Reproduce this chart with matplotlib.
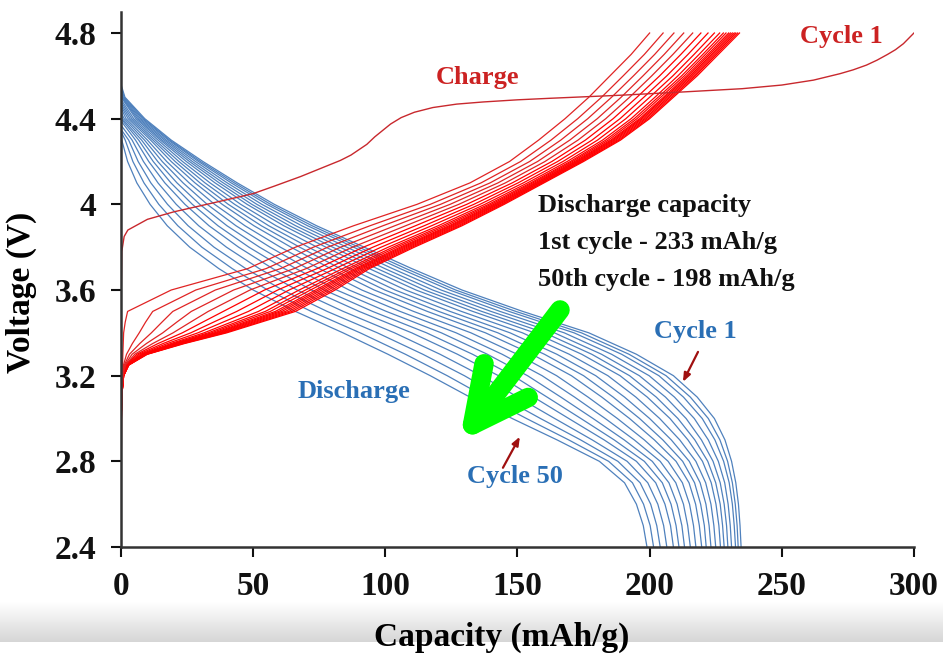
import numpy as np
import matplotlib
matplotlib.use('Agg')
import matplotlib.pyplot as plt
from matplotlib.colors import LinearSegmentedColormap

# discharge curves (cycle 1 ... cycle 50): capacity (mAh/g) where each curve crosses the voltage levels
discharge_levels = [4.5, 4.4, 4.3, 4.2, 4.1, 4.0, 3.9, 3.8, 3.7, 3.6, 3.5, 3.4, 3.3, 3.2, 3.1, 3.0,
                    2.9, 2.8, 2.7, 2.6, 2.5, 2.4]
discharge_start = [4.56, 4.55, 4.55, 4.54, 4.53, 4.52, 4.51, 4.49, 4.48, 4.47,
                   4.46, 4.45, 4.43, 4.42, 4.40, 4.39, 4.37, 4.35, 4.34, 4.32]
discharge_cap = [
    [1.5, 9.0, 19.0, 31.0, 44.0, 58.0, 74.0, 92.0, 110.0, 129.0, 152.0, 177.0, 195.0, 209.0, 218.0, 224.5, 228.5, 231.0, 232.6, 233.6, 234.2, 234.6],
    [1.2, 8.5, 18.4, 30.1, 42.9, 56.6, 72.3, 90.0, 107.8, 126.6, 149.4, 174.2, 192.2, 206.2, 215.4, 222.2, 226.6, 229.5, 231.3, 232.4, 233.1, 233.5],
    [0.9, 8.0, 17.9, 29.3, 41.7, 55.2, 70.6, 88.0, 105.6, 124.3, 146.8, 171.4, 189.4, 203.5, 212.8, 219.9, 224.7, 228.0, 230.1, 231.3, 232.0, 232.5],
    [0.6, 7.4, 17.1, 28.2, 40.2, 53.3, 68.4, 85.4, 102.7, 121.1, 143.4, 167.7, 185.6, 199.8, 209.4, 216.9, 222.2, 226.0, 228.4, 229.7, 230.5, 231.0],
    [0.4, 6.8, 16.4, 27.0, 38.7, 51.4, 66.1, 82.8, 99.8, 117.9, 140.0, 164.0, 181.8, 196.1, 206.0, 213.8, 219.6, 224.0, 226.7, 228.2, 229.1, 229.6],
    [0.25, 6.2, 15.6, 25.9, 37.2, 49.5, 63.8, 80.1, 96.9, 114.8, 136.5, 160.3, 178.1, 192.4, 202.5, 210.7, 217.1, 222.0, 225.0, 226.7, 227.6, 228.2],
    [0.1, 5.6, 14.9, 24.7, 35.6, 47.7, 61.6, 77.5, 93.9, 111.6, 133.1, 156.5, 174.3, 188.8, 199.1, 207.7, 214.5, 220.0, 223.3, 225.1, 226.2, 226.8],
    [0, 4.8, 14.0, 23.3, 33.7, 45.3, 58.7, 74.2, 90.3, 107.7, 128.8, 151.9, 169.6, 184.2, 194.8, 203.8, 211.4, 217.5, 221.2, 223.2, 224.3, 225.0],
    [0, 4.1, 13.0, 21.9, 31.8, 43.0, 55.9, 70.9, 86.6, 103.7, 124.5, 147.2, 164.9, 179.6, 190.5, 200.0, 208.2, 215.0, 219.1, 221.3, 222.5, 223.2],
    [0, 3.4, 12.1, 20.5, 29.9, 40.6, 53.1, 67.6, 83.0, 99.8, 120.2, 142.6, 160.2, 175.0, 186.2, 196.2, 205.0, 212.5, 217.0, 219.3, 220.7, 221.4],
    [0, 2.7, 11.2, 19.0, 28.0, 38.3, 50.3, 64.3, 79.3, 95.8, 115.9, 137.9, 155.5, 170.4, 181.9, 192.4, 201.8, 210.0, 214.9, 217.4, 218.8, 219.7],
    [0, 1.9, 10.0, 17.3, 25.8, 35.4, 46.9, 60.3, 75.0, 91.1, 110.7, 132.4, 149.9, 164.8, 176.7, 187.8, 198.0, 207.0, 212.4, 215.1, 216.6, 217.5],
    [0, 1.2, 8.9, 15.6, 23.5, 32.6, 43.5, 56.4, 70.6, 86.3, 105.6, 126.8, 144.2, 159.3, 171.6, 183.2, 194.2, 204.0, 209.9, 212.8, 214.4, 215.4],
    [0, 0.5, 7.8, 13.9, 21.2, 29.8, 40.1, 52.4, 66.2, 81.6, 100.4, 121.2, 138.6, 153.8, 166.4, 178.6, 190.4, 201.0, 207.3, 210.4, 212.2, 213.2],
    [0, 0, 6.7, 12.2, 18.9, 27.0, 36.7, 48.4, 61.8, 76.9, 95.2, 115.6, 133.0, 148.3, 161.2, 174.0, 186.6, 198.0, 204.8, 208.1, 210.0, 211.1],
    [0, 0, 5.5, 10.5, 16.6, 24.2, 33.3, 44.5, 57.4, 72.1, 90.1, 110.0, 127.3, 142.8, 156.1, 169.4, 182.8, 195.0, 202.3, 205.8, 207.9, 209.0],
    [0, 0, 4.2, 8.5, 14.0, 20.9, 29.4, 39.9, 52.3, 66.6, 84.1, 103.5, 120.7, 136.3, 150.1, 164.1, 178.3, 191.5, 199.3, 203.1, 205.3, 206.5],
    [0, 0, 2.9, 6.5, 11.3, 17.6, 25.4, 35.2, 47.2, 61.1, 78.0, 97.0, 114.2, 129.9, 144.0, 158.7, 173.9, 188.0, 196.4, 200.4, 202.7, 204.0],
    [0, 0, 1.6, 4.5, 8.7, 14.3, 21.5, 30.6, 42.1, 55.5, 72.0, 90.5, 107.6, 123.4, 138.0, 153.4, 169.4, 184.5, 193.5, 197.7, 200.2, 201.5],
    [0, 0, 0.3, 2.5, 6.0, 11.0, 17.5, 26.0, 37.0, 50.0, 66.0, 84.0, 101.0, 117.0, 132.0, 148.0, 165.0, 181.0, 190.5, 195.0, 197.6, 199.0],
]

# charge curves (cycles 2-50): capacity where each curve crosses the voltage levels
charge_levels = [2.4, 3.0, 3.1, 3.2, 3.25, 3.3, 3.35, 3.4, 3.45, 3.5, 3.6, 3.7, 3.8, 3.9, 4.0, 4.1,
                 4.2, 4.3, 4.4, 4.5, 4.6, 4.7, 4.8]
charge_cap = [
    [0, 0.1, 0.25, 1.0, 3.0, 10.0, 24.0, 40.0, 53.0, 66.0, 81.0, 94.0, 111.0, 129.0, 145.0, 160.0, 175.0, 189.0, 200.0, 209.0, 218.0, 226.0, 234.0],
    [0, 0.1, 0.25, 1.0, 2.95, 9.8, 23.5, 39.2, 52.0, 64.7, 79.8, 93.1, 110.1, 128.2, 144.3, 159.4, 174.4, 188.4, 199.4, 208.4, 217.3, 225.3, 233.3],
    [0, 0.1, 0.25, 1.0, 2.9, 9.6, 23.1, 38.4, 50.9, 63.5, 78.5, 92.2, 109.2, 127.4, 143.7, 158.9, 173.9, 187.8, 198.7, 207.7, 216.7, 224.7, 232.6],
    [0, 0.1, 0.25, 1.0, 2.86, 9.44, 22.6, 37.7, 49.9, 62.2, 77.3, 91.2, 108.3, 126.5, 143.0, 158.3, 173.3, 187.1, 198.1, 207.1, 216.0, 224.0, 232.0],
    [0, 0.1, 0.25, 1.0, 2.8, 9.3, 22.1, 36.9, 48.9, 60.9, 76.0, 90.3, 107.4, 125.7, 142.4, 157.8, 172.8, 186.5, 197.4, 206.4, 215.4, 223.4, 231.3],
    [0, 0.1, 0.25, 1.0, 2.76, 9.07, 21.7, 36.1, 47.9, 59.7, 74.8, 89.4, 106.5, 124.9, 141.7, 157.2, 172.2, 185.9, 196.8, 205.8, 214.7, 222.7, 230.6],
    [0, 0.1, 0.25, 0.9, 2.7, 8.9, 21.2, 35.3, 46.8, 58.4, 73.6, 88.5, 105.6, 124.1, 141.0, 156.6, 171.6, 185.3, 196.2, 205.2, 214.0, 222.0, 229.9],
    [0, 0.1, 0.25, 0.9, 2.64, 8.6, 20.5, 34.2, 45.3, 56.5, 71.7, 87.1, 104.3, 122.9, 140.1, 155.8, 170.8, 184.4, 195.2, 204.2, 213.1, 221.1, 228.9],
    [0, 0.1, 0.25, 0.9, 2.57, 8.3, 19.8, 33.0, 43.7, 54.6, 69.8, 85.7, 102.9, 121.6, 139.1, 155.0, 170.0, 183.4, 194.2, 203.2, 212.1, 220.1, 227.9],
    [0, 0.1, 0.25, 0.9, 2.47, 8.0, 18.9, 31.4, 41.7, 52.0, 67.4, 83.9, 101.1, 120.0, 137.7, 153.8, 168.8, 182.2, 193.0, 202.0, 210.7, 218.7, 226.5],
    [0, 0.1, 0.25, 0.9, 2.33, 7.4, 17.5, 29.1, 38.6, 48.2, 63.6, 81.1, 98.4, 117.5, 135.8, 152.2, 167.2, 180.3, 191.0, 200.0, 208.8, 216.8, 224.5],
    [0, 0.1, 0.25, 0.8, 2.16, 6.7, 15.9, 26.4, 35.0, 43.8, 59.3, 77.9, 95.3, 114.7, 133.5, 150.2, 165.2, 178.2, 188.8, 197.8, 206.5, 214.5, 222.1],
    [0, 0.1, 0.25, 0.8, 1.97, 6.0, 14.0, 23.2, 30.9, 38.7, 54.3, 74.2, 91.7, 111.4, 130.8, 148.0, 163.0, 175.7, 186.2, 195.2, 203.8, 211.8, 219.4],
    [0, 0.15, 0.3, 0.7, 1.75, 5.2, 12.0, 19.7, 26.3, 33.0, 48.8, 70.1, 87.6, 107.7, 127.8, 145.4, 160.4, 172.9, 183.4, 192.4, 200.8, 208.8, 216.3],
    [0, 0.15, 0.3, 0.7, 1.5, 4.2, 9.6, 15.8, 21.1, 26.6, 42.6, 65.5, 83.1, 103.6, 124.5, 142.6, 157.6, 169.8, 180.2, 189.2, 197.5, 205.5, 212.9],
    [0, 0.15, 0.3, 0.6, 1.25, 3.2, 7.1, 11.5, 15.5, 19.6, 35.7, 60.4, 78.2, 99.1, 120.9, 139.6, 154.6, 166.4, 176.6, 185.6, 193.9, 201.9, 209.2],
    [0, 0.2, 0.35, 0.6, 0.96, 2.1, 4.3, 6.9, 9.3, 12.0, 28.3, 54.9, 72.8, 94.2, 117.0, 136.2, 151.2, 162.7, 172.8, 181.8, 190.0, 198.0, 205.1],
    [0, 0.2, 0.35, 0.5, 0.6, 0.7, 0.85, 1.0, 1.6, 2.5, 19.0, 48.0, 66.0, 88.0, 112.0, 132.0, 147.0, 158.0, 168.0, 177.0, 185.0, 193.0, 200.0],
]

# first charge
charge1_cap = [0, 0, 0.3, 1.2, 2.6, 10, 20, 36, 50, 58, 68, 78, 83, 87, 90, 93, 96, 99, 102, 106,
               111, 118, 127, 137, 150, 162, 190, 213, 235, 250, 262, 272, 277, 282, 286, 290,
               293, 296, 298, 300]
charge1_v = [2.4, 3.5, 3.78, 3.85, 3.88, 3.93, 3.965, 4.01, 4.05, 4.085, 4.13, 4.18, 4.205, 4.23,
             4.255, 4.28, 4.315, 4.345, 4.375, 4.405, 4.43, 4.452, 4.468, 4.478, 4.488, 4.495,
             4.51, 4.525, 4.54, 4.557, 4.58, 4.61, 4.628, 4.65, 4.673, 4.70, 4.722, 4.75, 4.775, 4.80]

x_ticks = [0, 50, 100, 150, 200, 250, 300]
y_ticks = [2.4, 2.8, 3.2, 3.6, 4.0, 4.4, 4.8]
y_ticklabels = ['2.4', '2.8', '3.2', '3.6', '4', '4.4', '4.8']

plt.rcParams['font.family'] = ['Liberation Serif', 'DejaVu Serif']
plt.rcParams['font.weight'] = 'bold'

fig = plt.figure(figsize=(9.43, 6.62), dpi=100)

# grey shadow band at the bottom of the screenshot
band = fig.add_axes([0, 1 - 642 / 662, 1, 40 / 662], zorder=-1)
band.imshow(np.linspace(0, 1, 60).reshape(-1, 1), aspect='auto', extent=[0, 1, 0, 1],
            cmap=LinearSegmentedColormap.from_list('band', ['#ffffff', '#d6d6d6']))
band.axis('off')

ax = fig.add_axes([0.1283, 0.1737, 0.8409, 0.8088])

blue = '#4f81bd'
red = '#ff0000'
dark_red = '#c8282d'

lv = np.array(discharge_levels)
for start, row in zip(discharge_start, discharge_cap):
    row = np.array(row)
    keep = lv < start
    ax.plot(np.r_[0, row[keep]], np.r_[start, lv[keep]], color=blue, lw=0.9)

for i, row in enumerate(charge_cap):
    c = red if i < 13 else '#e02424'
    ax.plot(row, charge_levels, color=c, lw=0.9)

ax.plot(charge1_cap, charge1_v, color=dark_red, lw=1.0)

ax.set_xlim(0, 300)
ax.set_ylim(2.4, 4.9)
ax.set_xticks(x_ticks)
ax.set_yticks(y_ticks)
ax.set_yticklabels(y_ticklabels)
for s in ['top', 'right']:
    ax.spines[s].set_visible(False)
for s in ['left', 'bottom']:
    ax.spines[s].set_color('#333333')
    ax.spines[s].set_linewidth(1.8)
ax.tick_params(direction='out', length=7.5, width=1.5, labelsize=24, pad=10, colors='#111111')

ax.set_xlabel('Capacity (mAh/g)', fontsize=24, fontweight='bold')
ax.xaxis.set_label_coords(0.48, -0.14)
ax.set_ylabel('Voltage (V)', fontsize=24, fontweight='bold')
ax.yaxis.set_label_coords(-0.106, 0.476)

# annotations
ax.text(134.7, 4.59, 'Charge', color='#cc2222', fontsize=19, ha='center', va='center')
ax.text(272.4, 4.786, 'Cycle 1', color='#cc2222', fontsize=19, ha='center', va='center')
ax.text(157.8, 3.993, 'Discharge capacity', color='#111111', fontsize=19, va='center')
ax.text(157.8, 3.820, '1st cycle - 233 mAh/g', color='#111111', fontsize=19, va='center')
ax.text(157.8, 3.647, '50th cycle - 198 mAh/g', color='#111111', fontsize=19, va='center')
ax.text(217.2, 3.405, 'Cycle 1', color='#2a6fb5', fontsize=19, ha='center', va='center')
ax.text(88.1, 3.125, 'Discharge', color='#2a6fb5', fontsize=19, ha='center', va='center')
ax.text(149.1, 2.728, 'Cycle 50', color='#2a6fb5', fontsize=19, ha='center', va='center')

ax.annotate('', xy=(212.6, 3.171), xytext=(218.3, 3.311),
            arrowprops=dict(arrowstyle='-|>,head_length=0.5,head_width=0.2', color='#a01010', lw=1.6,
                            shrinkA=0, shrinkB=0))
ax.annotate('', xy=(150.9, 2.915), xytext=(144.5, 2.770),
            arrowprops=dict(arrowstyle='-|>,head_length=0.5,head_width=0.2', color='#a01010', lw=1.6,
                            shrinkA=0, shrinkB=0))

# big green arrow
ax.annotate('', xy=(128.0, 2.89), xytext=(166.1, 3.507),
            arrowprops=dict(arrowstyle='->,head_length=2.0,head_width=1.0', color='#00ff00', lw=14,
                            mutation_scale=20, shrinkA=0, shrinkB=0, capstyle='round', joinstyle='round'))

fig.savefig('out.png', dpi=100)
